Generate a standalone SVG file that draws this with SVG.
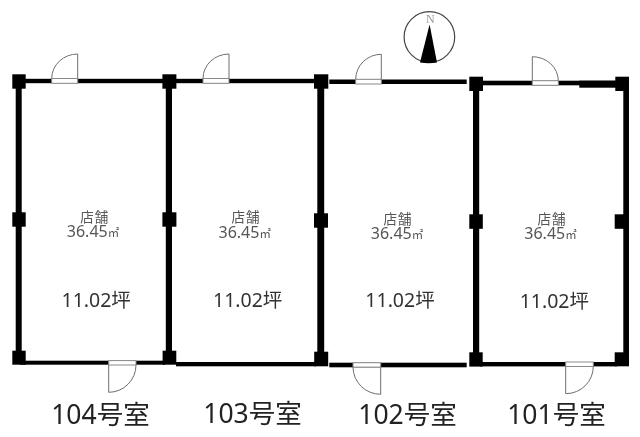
<svg xmlns="http://www.w3.org/2000/svg" width="640" height="437" viewBox="0 0 640 437">
<style>
.k{fill:#000}
.d{fill:none;stroke:#6e6e6e;stroke-width:1}
.t{fill:#fff;stroke:#8a8a8a;stroke-width:1}
text{font-family:"Noto Sans","Noto Sans CJK JP",sans-serif;text-anchor:middle}
.s{font-size:13.5px;fill:#555;letter-spacing:1px}
.a{font-size:16px;fill:#555}
.a tspan{font-size:11.5px}
.b{font-size:19.5px;fill:#333}
.l{font-size:26.5px;fill:#222}
</style>
<defs>
<filter id="soft" x="0" y="0" width="100%" height="100%"><feGaussianBlur stdDeviation="0.4"/></filter>
</defs>
<rect width="640" height="437" fill="#fff"/>
<g filter="url(#soft)">
<g id="walls" class="k">
<rect x="15.7" y="80" width="6" height="280"/>
<rect x="165.8" y="80" width="6.2" height="280"/>
<rect x="317.3" y="80" width="6.9" height="280"/>
<rect x="473" y="80" width="6.2" height="280"/>
<rect x="623.3" y="80" width="5.7" height="280"/>
<rect x="20" y="78.8" width="145" height="4.4"/>
<rect x="172" y="78.8" width="145" height="4.4"/>
<rect x="329.3" y="79.5" width="137.4" height="4.5"/>
<rect x="480" y="80.7" width="137" height="4.6"/>
<rect x="579.3" y="80.7" width="37" height="7"/>
<rect x="20" y="360.7" width="145" height="4"/>
<rect x="176" y="362" width="140" height="4.3"/>
<rect x="329.3" y="362.7" width="137.4" height="4.6"/>
<rect x="480" y="362" width="137" height="4.4"/>
</g>
<g id="columns" class="k">
<rect x="12.3" y="74.3" width="13.4" height="14.4"/>
<rect x="162.4" y="74.3" width="14" height="14.4"/>
<rect x="314" y="74.3" width="14.3" height="14.4"/>
<rect x="469.3" y="76.7" width="13.7" height="14.3"/>
<rect x="615.3" y="76.7" width="13.7" height="14.3"/>
<rect x="12.3" y="212.3" width="13.4" height="14.4"/>
<rect x="162.4" y="212.3" width="14" height="14.4"/>
<rect x="314" y="213.3" width="14" height="14.4"/>
<rect x="469.3" y="214.3" width="13.5" height="14.5"/>
<rect x="614.7" y="214.3" width="14.3" height="14.5"/>
<rect x="12.3" y="350.7" width="13.4" height="14"/>
<rect x="162.6" y="350.7" width="13.7" height="14"/>
<rect x="314.2" y="351.7" width="14" height="14.6"/>
<rect x="469.3" y="352.3" width="13.4" height="14.3"/>
<rect x="614.7" y="352.3" width="14.3" height="14"/>
</g>
<g id="door-104">
<rect class="t" x="108.7" y="360.6" width="27.3" height="4.4"/>
<path class="d" d="M108.7 365V392.3A27.3 27.3 0 0 0 136 365"/>
</g>
<g id="door-104-top">
<rect class="t" x="51.7" y="78.5" width="26" height="4.8"/>
<path class="d" d="M77.7 78.5V54A26 24.5 0 0 0 51.7 78.5"/>
</g>
<g id="door-103">
<rect class="t" x="203" y="78.5" width="26" height="4.8"/>
<path class="d" d="M229 78.5V54A26 24.5 0 0 0 203 78.5"/>
</g>
<g id="door-102">
<rect class="t" x="355.7" y="79.3" width="25.6" height="4.7"/>
<path class="d" d="M381.3 79.3V54.3A25.6 25 0 0 0 355.7 79.3"/>
</g>
<g id="door-102-bottom">
<rect class="t" x="353" y="362.7" width="27.7" height="4.4"/>
<path class="d" d="M380.7 367V394.3A27.7 27.3 0 0 1 353 367"/>
</g>
<g id="door-101">
<rect class="t" x="532.3" y="80.7" width="26" height="4.6"/>
<path class="d" d="M532.3 80.7V56.7A26 24 0 0 1 558.3 80.7"/>
</g>
<g id="door-101-bottom">
<rect class="t" x="565.7" y="362" width="27.6" height="4.5"/>
<path class="d" d="M565.7 366.5V393.7A27.6 27.2 0 0 0 593.3 366.5"/>
</g>
<g id="north">
<circle cx="429.4" cy="37" r="25.3" fill="#fff" stroke="#444" stroke-width="1.2"/>
<path class="k" d="M429.6 24.5L437 62.5Q429 64 420 62.5Z"/>
<text x="430.3" y="22.7" style="font-family:'Liberation Serif',serif;font-size:12px;fill:#999">N</text>
</g>
<g id="room-104">
<text class="s" x="94.7" y="222.3">店舗</text>
<text class="a" x="93" y="237.3">36.45<tspan>㎡</tspan></text>
<text class="b" x="96.2" y="307.3">11.02坪</text>
<text class="l" x="100.4" y="424">104号室</text>
</g>
<g id="room-103">
<text class="s" x="246" y="222.3">店舗</text>
<text class="a" x="244.7" y="237.7">36.45<tspan>㎡</tspan></text>
<text class="b" x="247.7" y="306.7">11.02坪</text>
<text class="l" x="252.5" y="422.7">103号室</text>
</g>
<g id="room-102">
<text class="s" x="398" y="223.7">店舗</text>
<text class="a" x="397" y="239">36.45<tspan>㎡</tspan></text>
<text class="b" x="400" y="306.7">11.02坪</text>
<text class="l" x="407.5" y="424">102号室</text>
</g>
<g id="room-101">
<text class="s" x="552" y="224">店舗</text>
<text class="a" x="550.5" y="239.3">36.45<tspan>㎡</tspan></text>
<text class="b" x="554.3" y="307.7">11.02坪</text>
<text class="l" x="556.4" y="424">101号室</text>
</g>
</g>
</svg>
